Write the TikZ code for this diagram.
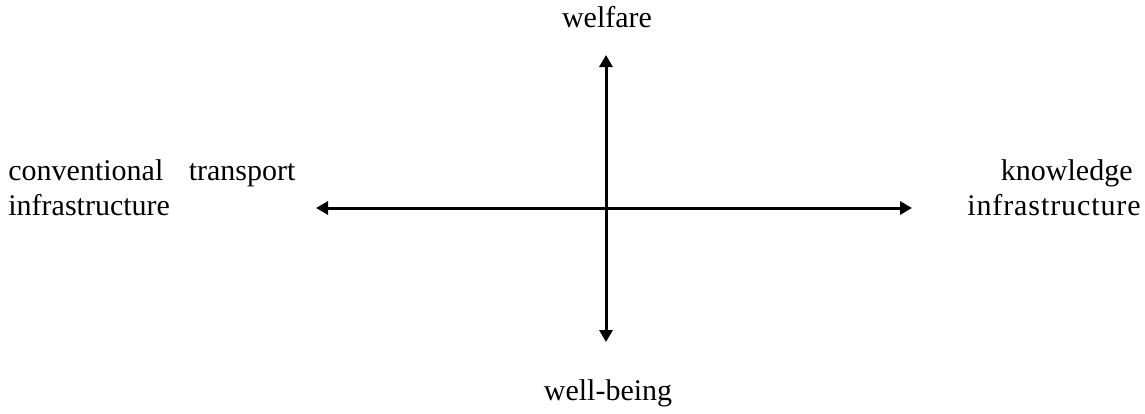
\documentclass[tikz,border=0pt]{standalone}
\usepackage{fontspec}
\setmainfont{Liberation Serif}
\usetikzlibrary{arrows.meta}
\begin{document}
\begin{tikzpicture}[x=0.5pt,y=-0.5pt,
  lbl/.style={inner sep=0pt,font=\fontsize{15}{17.5}\selectfont},
  axis/.style={line width=1.5pt,{Triangle[length=6pt,width=6.5pt]}-{Triangle[length=6pt,width=6.5pt]}}]
\useasboundingbox (0,0) rectangle (1145,413);
\coordinate (T) at (606,55);
\coordinate (B) at (606,342);
\coordinate (L) at (316,208);
\coordinate (R) at (912,208);
\draw[axis] (L) -- (R);
\draw[axis] (T) -- (B);
\node[lbl,anchor=base] (welfare) at (607,27) {welfare};
\node[lbl,anchor=base] (wellbeing) at (608,400) {well-being};
\node[lbl,anchor=base west,text width=143.5pt,align=left] (conv) at (8,180)
  {conventional\hfill transport\\infrastructure};
\node[lbl,anchor=base east,text width=95pt,align=right] (know) at (1141,180)
  {knowledge\kern4pt\\{\addfontfeature{LetterSpace=3}infrastructure}};
\end{tikzpicture}
\end{document}
